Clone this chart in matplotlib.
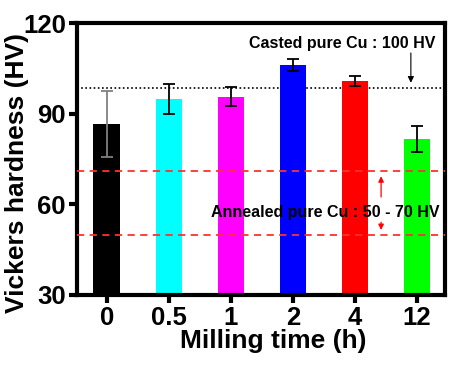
import numpy as np
import matplotlib.pyplot as plt

plt.rcParams['font.family'] = ['Liberation Sans Narrow', 'Liberation Sans', 'DejaVu Sans']
plt.rcParams['font.weight'] = 'bold'
plt.rcParams['axes.labelweight'] = 'bold'

# data
times = ['0', '0.5', '1', '2', '4', '12']
hardness = [86.5, 94.8, 95.6, 106.0, 100.8, 81.5]
err = [11.0, 5.0, 3.2, 2.0, 1.6, 4.3]
colors = ['#000000', '#00FFFF', '#FF00FF', '#0000FF', '#FF0000', '#00FF00']
ecolors = ['#808080', 'k', 'k', 'k', 'k', 'k']
casted = 98.6
annealed = [50, 71]

fig = plt.figure(figsize=(4.61, 3.71), dpi=100)
ax = fig.add_axes([77/461, 1-295/371, 368/461, 272/371])

x = np.arange(len(times))
ax.bar(x, np.array(hardness) - 30, bottom=30, width=0.43, color=colors, zorder=2)
for i in range(len(x)):
    ax.errorbar(x[i], hardness[i], yerr=err[i], fmt='none', ecolor=ecolors[i],
                elinewidth=1.3, capsize=4, capthick=1.3, zorder=3)

ax.axhline(casted, color='k', ls=(0, (1, 1.5)), lw=1.2, zorder=1)
for v in annealed:
    ax.axhline(v, color='#FF3030', ls=(0, (4, 3)), lw=1.3, zorder=3)

ax.text(3.8, 113.3, 'Casted pure Cu : 100 HV', ha='center', va='center',
        fontsize=11.5, family='Liberation Sans')
ax.annotate('', xy=(4.9, 99.3), xytext=(4.9, 111),
            arrowprops=dict(arrowstyle='-|>', color='k', lw=0.8, mutation_scale=9))
ax.text(3.52, 57.3, 'Annealed pure Cu : 50 - 70 HV', ha='center', va='center',
        fontsize=11.5, family='Liberation Sans')
ax.annotate('', xy=(4.42, 70.2), xytext=(4.42, 61.5),
            arrowprops=dict(arrowstyle='-|>', color='red', lw=0.9, mutation_scale=8))
ax.annotate('', xy=(4.42, 50.6), xytext=(4.42, 55),
            arrowprops=dict(arrowstyle='-|>', color='red', lw=0.9, mutation_scale=8))

ax.set_xlim(-0.48, 5.45)
ax.set_ylim(30, 120)
ax.set_yticks([30, 60, 90, 120])
ax.set_xticks(x)
ax.set_xticklabels(times)
for s in ax.spines.values():
    s.set_linewidth(3)
ax.tick_params(width=3, length=6, labelsize=18.5, pad=2)
ax.set_xlabel('Milling time (h)', fontsize=19)
ax.set_ylabel('Vickers hardness (HV)', fontsize=19)
ax.xaxis.set_label_coords(0.533, -0.125)
ax.yaxis.set_label_coords(-0.13, 0.45)

plt.savefig('out.png', dpi=100)
